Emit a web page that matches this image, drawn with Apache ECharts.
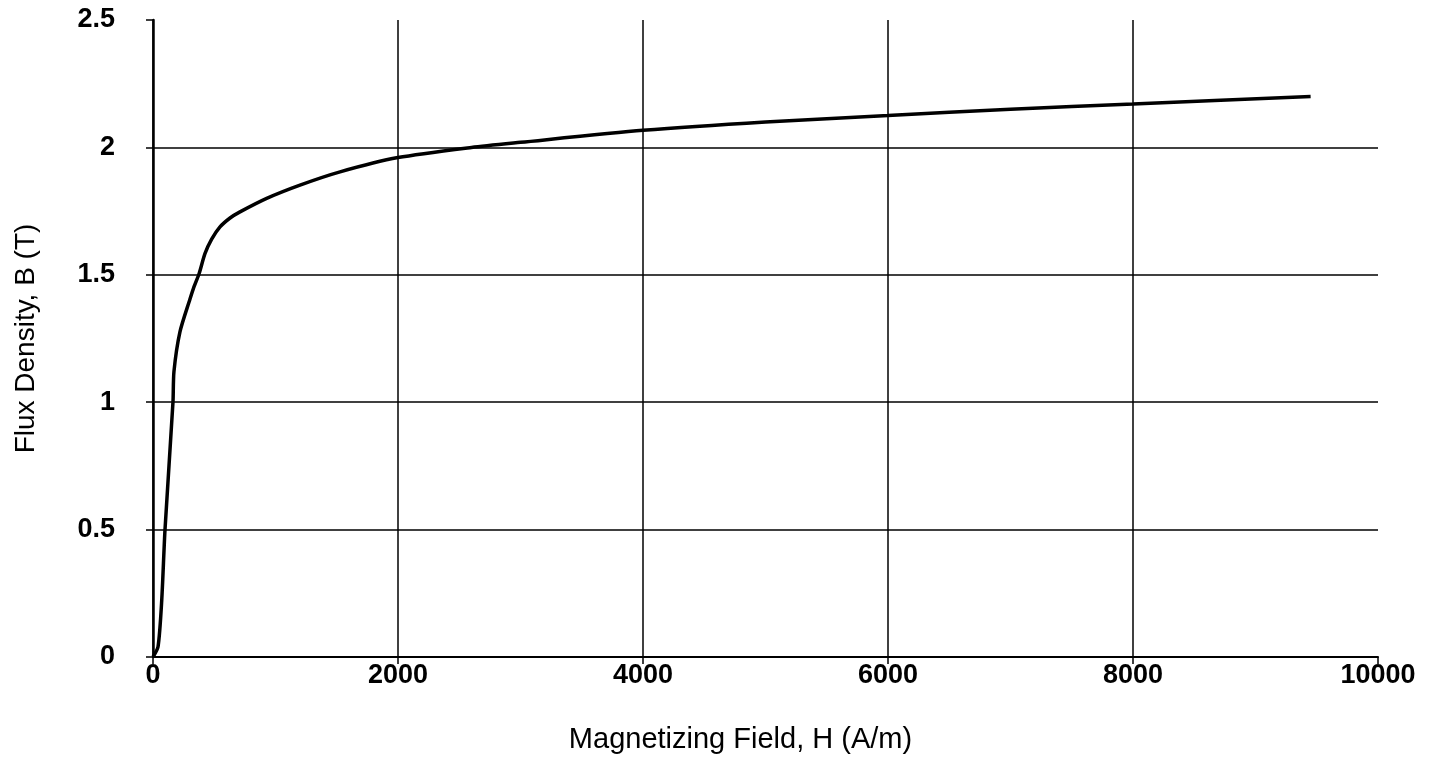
<!DOCTYPE html>
<html lang="en">
<head>
  <meta charset="utf-8">
  <title>B-H curve</title>
  <script src="https://cdn.jsdelivr.net/npm/echarts@6/dist/echarts.min.js"></script>
  <style>
    html, body { margin: 0; padding: 0; background: #fff; }
    #chart1 { width: 1445px; height: 775px; }
  </style>
</head>
<body>
<div id="chart1"></div>
<script>
  // magnetizing field H (A/m) and flux density B (T)
  var fieldH = [0, 41, 71, 98, 163, 171, 220, 302, 329, 378, 424, 479, 547, 629, 710, 928, 1200, 1527, 2000, 2600, 3000, 4000, 5000, 6000, 7000, 8000, 9450];
  var fluxB  = [0, 0.04, 0.22, 0.5, 1.0, 1.12, 1.276, 1.405, 1.445, 1.507, 1.583, 1.64, 1.688, 1.723, 1.747, 1.80, 1.852, 1.904, 1.96, 2.0, 2.02, 2.067, 2.1, 2.125, 2.15, 2.17, 2.2];

  var xTicks = [0, 2000, 4000, 6000, 8000, 10000];
  var yTicks = [0, 0.5, 1, 1.5, 2, 2.5];

  var pts = [];
  for (var i = 0; i < fieldH.length; i++) {
    pts.push([fieldH[i], fluxB[i]]);
  }

  var chart1 = echarts.init(document.getElementById('chart1'));
  var font = 'Liberation Sans, Arial, sans-serif';

  var option = {
    backgroundColor: '#fff',
    animation: false,
    grid: { left: 153, right: 67, top: 20, bottom: 118, outerBoundsMode: 'none', containLabel: false },
    xAxis: {
      type: 'value',
      min: xTicks[0],
      max: xTicks[xTicks.length - 1],
      interval: 2000,
      name: 'Magnetizing Field, H (A/m)',
      nameLocation: 'middle',
      nameGap: 68,
      nameTextStyle: { fontFamily: font, fontSize: 29, color: '#000', padding: [0, 50, 0, 0] },
      axisLine: { lineStyle: { color: '#000', width: 2 } },
      axisTick: { show: true, length: 7, lineStyle: { color: '#000', width: 1.5 } },
      axisLabel: {
        fontFamily: font, fontSize: 27, fontWeight: 'bold', color: '#000', margin: 5,
        formatter: function (v) { return String(v); }
      },
      splitLine: { show: true, showMaxLine: false, lineStyle: { color: '#000', width: 1.5 } }
    },
    yAxis: {
      type: 'value',
      min: yTicks[0],
      max: yTicks[yTicks.length - 1],
      interval: 0.5,
      name: 'Flux Density, B (T)',
      nameLocation: 'middle',
      nameGap: 113,
      nameTextStyle: { fontFamily: font, fontSize: 28, color: '#000' },
      axisLine: { show: true, lineStyle: { color: '#000', width: 2.5 } },
      axisTick: { show: true, length: 7, lineStyle: { color: '#000', width: 1.5 } },
      axisLabel: { fontFamily: font, fontSize: 27, fontWeight: 'bold', color: '#000', margin: 38 },
      splitLine: { show: true, showMaxLine: false, lineStyle: { color: '#000', width: 1.5 } }
    },
    series: [
      {
        type: 'line',
        data: pts,
        smooth: 0.25,
        showSymbol: false,
        lineStyle: { color: '#000', width: 3.5 }
      }
    ]
  };
  chart1.setOption(option);
</script>
</body>
</html>
